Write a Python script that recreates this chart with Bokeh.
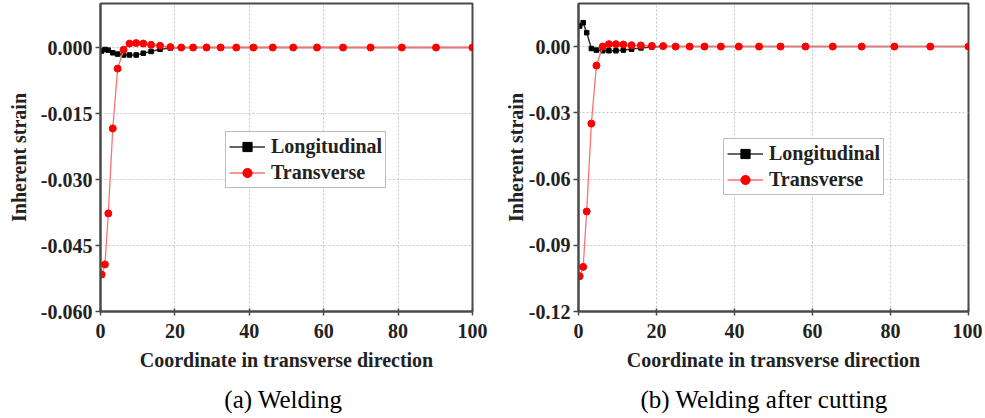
from bokeh.plotting import figure
from bokeh.layouts import row
from bokeh.models import (Range1d, FixedTicker, NumeralTickFormatter, Legend,
                          LegendItem, Title)
from bokeh.embed import file_html
from bokeh.resources import INLINE

# ---- data ----
x_coord = [0.3, 1.2, 2.1, 3.3, 4.6, 6.2, 7.8, 9.6, 11.5, 13.6, 16.0, 18.8, 21.7,
           24.9, 28.5, 32.3, 36.5, 41.1, 46.3, 51.8, 58.2, 65.2, 72.6, 81.0, 90.2, 100.0]

a_longitudinal = [-0.0008, -0.00045, -0.0006, -0.0012, -0.0015, -0.0017, -0.0017,
                  -0.0017, -0.0013, -0.0009, -0.0004, -0.0001, 0, 0, 0, 0, 0, 0, 0,
                  0, 0, 0, 0, 0, 0, 0]
a_transverse = [-0.0516, -0.0493, -0.0377, -0.0184, -0.0048, -0.0005, 0.0009, 0.0010,
                0.0009, 0.0006, 0.0004, 0.0001, 0, 0, 0, 0, 0, 0, 0, 0, 0, 0, 0, 0, 0, 0]

b_longitudinal = [0.0093, 0.0108, 0.0063, -0.0009, -0.0016, -0.0019, -0.0019, -0.0019,
                  -0.0016, -0.0012, -0.0006, -0.0002, 0, 0, 0, 0, 0, 0, 0, 0, 0, 0,
                  0, 0, 0, 0]
b_transverse = [-0.104, -0.0998, -0.0747, -0.0349, -0.0086, 0.0, 0.0011, 0.0011, 0.0009,
                0.0006, 0.0005, 0.0003, 0.0002, 0, 0, 0, 0, 0, 0, 0, 0, 0, 0, 0, 0, 0]

x_ticks = [0, 20, 40, 60, 80, 100]
a_yticks = [0.0, -0.015, -0.030, -0.045, -0.060]
b_yticks = [0.0, -0.03, -0.06, -0.09, -0.12]

FONT = "Liberation Serif"
AX = "#4a4a4a"


def make(ymin, ymax, yticks, yfmt, long_vals, trans_vals, caption,
         border_left, frame_w, border_right, legend_loc, ylabel_standoff):
    p = figure(output_backend="svg", toolbar_location=None,
               frame_width=frame_w, frame_height=308,
               min_border_left=border_left, min_border_right=border_right,
               min_border_top=3, min_border_bottom=0,
               x_range=Range1d(0, 100), y_range=Range1d(ymin, ymax))
    p.background_fill_color = "white"
    p.border_fill_color = "white"
    p.outline_line_color = AX
    p.outline_line_width = 2

    p.xaxis.ticker = FixedTicker(ticks=x_ticks)
    p.yaxis.ticker = FixedTicker(ticks=yticks)
    p.yaxis.formatter = NumeralTickFormatter(format=yfmt)
    for ax in (p.xaxis[0], p.yaxis[0]):
        ax.axis_line_color = AX
        ax.axis_line_width = 2
        ax.major_tick_line_color = AX
        ax.major_tick_line_width = 1.5
        ax.minor_tick_line_color = None
        ax.major_label_text_font = FONT
        ax.major_label_text_font_style = "bold"
        ax.major_label_text_font_size = "20px"
        ax.major_label_text_color = "#222222"
        ax.axis_label_text_font = FONT
        ax.axis_label_text_font_style = "bold"
        ax.axis_label_text_font_size = "20px"
        ax.axis_label_text_color = "#222222"
    p.xaxis.major_tick_in = 3
    p.xaxis.major_tick_out = 4
    p.yaxis.major_tick_in = 0
    p.yaxis.major_tick_out = 5
    p.xaxis.major_label_standoff = 8
    p.yaxis.major_label_standoff = 3
    p.xaxis.axis_label = "Coordinate in transverse direction"
    p.yaxis.axis_label = "Inherent strain"
    p.xaxis.axis_label_standoff = 8
    p.yaxis.axis_label_standoff = ylabel_standoff

    for g in (p.xgrid[0], p.ygrid[0]):
        g.grid_line_color = "#c4c4c4"
        g.grid_line_dash = "2 2"
        g.grid_line_width = 1

    l1 = p.line(x_coord, long_vals, line_color="#333333", line_width=1.5)
    s1 = p.scatter(x_coord, long_vals, marker="square", size=4.5,
                   fill_color="black", line_color="black")
    l2 = p.line(x_coord, trans_vals, line_color="#ff7070", line_width=1.3)
    s2 = p.scatter(x_coord, trans_vals, marker="circle", size=7,
                   fill_color="#ff0000", line_color="#ff0000")

    legend = Legend(items=[LegendItem(label="Longitudinal", renderers=[l1, s1]),
                           LegendItem(label="Transverse", renderers=[l2, s2])],
                    location=legend_loc)
    legend.label_text_font = FONT
    legend.label_text_font_style = "bold"
    legend.label_text_font_size = "20px"
    legend.label_text_color = "#222222"
    legend.glyph_width = 36
    legend.glyph_height = 23
    legend.label_height = 23
    legend.label_standoff = 6
    legend.spacing = 3
    legend.padding = 3
    legend.margin = 0
    legend.border_line_color = "#7a7a7a"
    legend.border_line_width = 1.5
    legend.background_fill_color = "white"
    legend.background_fill_alpha = 1.0
    p.add_layout(legend)

    t = Title(text=caption, align="center", text_font=FONT,
              text_font_style="normal", text_font_size="25px",
              text_color="black", standoff=20, offset=0)
    p.add_layout(t, "below")
    return p


p1 = make(-0.060, 0.010, a_yticks, "0.000", a_longitudinal, a_transverse,
          "(a)  Welding", 100, 372, 16, (125, 123), 8)
p2 = make(-0.12, 0.0195, b_yticks, "0.00", b_longitudinal, b_transverse,
          "(b)  Welding  after  cutting", 90, 390, 14, (145, 116), -1)

layout = row(p1, p2, spacing=0)
open("out.html", "w").write(file_html(layout, INLINE))
